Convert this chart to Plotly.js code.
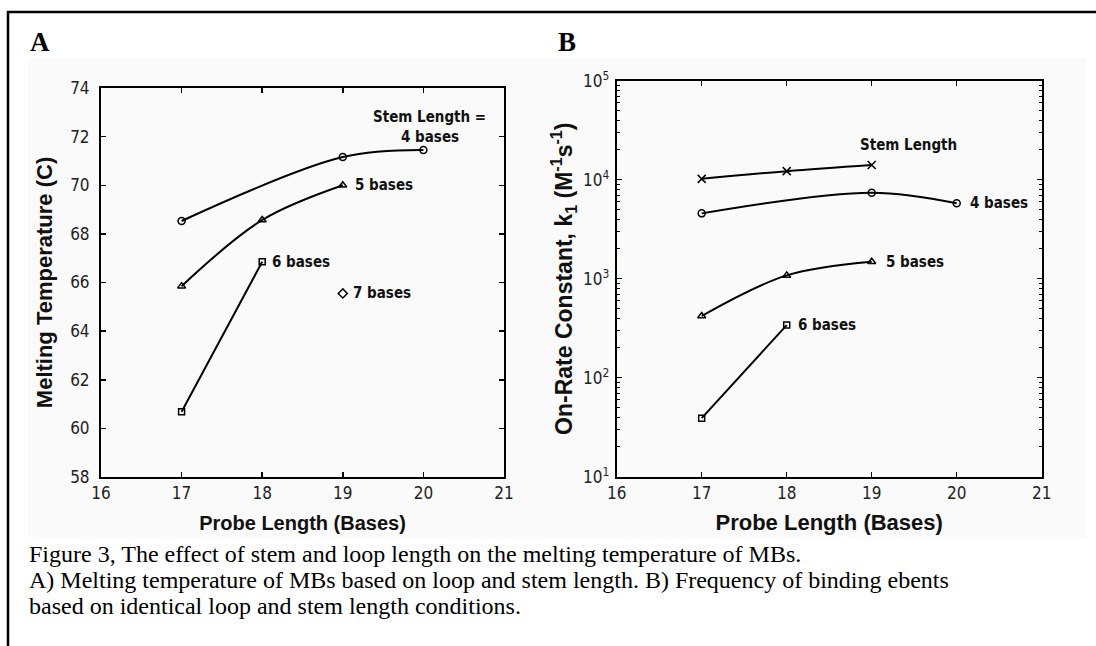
<!DOCTYPE html>
<html>
<head>
<meta charset="utf-8">
<script src="https://cdn.plot.ly/plotly-3.0.1.min.js"></script>
<style>
  html, body { margin: 0; padding: 0; background: #ffffff; }
  #chart { width: 1096px; height: 646px; }
</style>
</head>
<body>
<div id="chart"></div>
<script>
// ---------- Data ----------
// Panel A: melting temperature (C) vs probe length (bases)
const probeA4 = [17, 19, 20];
const tmA4    = [68.53, 71.16, 71.45];
const probeA5 = [17, 18, 19];
const tmA5    = [65.85, 68.57, 70.0];
const probeA6 = [17, 18];
const tmA6    = [60.68, 66.85];
const probeA7 = [19];
const tmA7    = [65.55];

// Panel B: on-rate constant k1 (M^-1 s^-1) vs probe length (bases)
const probeBx = [17, 18, 19];
const kBx     = [10200, 12200, 14100];
const probeB4 = [17, 19, 20];
const kB4     = [4570, 7390, 5770];
const probeB5 = [17, 18, 19];
const kB5     = [420, 1080, 1485];
const probeB6 = [17, 18];
const kB6     = [39, 340];

// Tick labels
const xTicks   = [16, 17, 18, 19, 20, 21];
const yTicksA  = [58, 60, 62, 64, 66, 68, 70, 72, 74];
const yTicksB  = [10, 100, 1000, 10000, 100000];
const yTextB   = ['10<sup>1</sup>', '10<sup>2</sup>', '10<sup>3</sup>', '10<sup>4</sup>', '10<sup>5</sup>'];

// Text
const panelLabels = ['A', 'B'];
const captionLines = [
  'Figure 3, The effect of stem and loop length on the melting temperature of MBs.',
  'A) Melting temperature of MBs based on loop and stem length. B) Frequency of binding ebents',
  'based on identical loop and stem length conditions.'
];

// ---------- Styling ----------
const W = 1096, H = 646;
const px = v => v / W;
const py = v => (H - v) / H;
const NARROW = '"DejaVu Sans Condensed", "Liberation Sans Narrow", "Liberation Sans", Arial, sans-serif';
const BOLD = '"Liberation Sans", Arial, sans-serif';
const SERIF = '"Liberation Serif", "Times New Roman", serif';

// minor tick positions for the log axis (2..9 within each decade)
const minorB = [];
for (let d = 1; d < 5; d++) for (let m = 2; m <= 9; m++) minorB.push(m * Math.pow(10, d));

function line(x, y, sym, xa, ya, size) {
  return {
    x: x, y: y, xaxis: xa, yaxis: ya, type: 'scatter', mode: 'lines+markers',
    line: { color: '#000', width: 2, shape: 'spline', smoothing: 1 },
    marker: { symbol: sym, size: size || 7, color: '#000', line: { color: '#000', width: 1.5 } },
    showlegend: false, hoverinfo: 'x+y'
  };
}

const traces = [
  line(probeA4, tmA4, 'circle-open', 'x', 'y'),
  line(probeA5, tmA5, 'triangle-up-open', 'x', 'y'),
  line(probeA6, tmA6, 'square-open', 'x', 'y', 6),
  line(probeA7, tmA7, 'diamond-open', 'x', 'y', 7),
  line(probeBx, kBx, 'x-thin-open', 'x2', 'y2', 8),
  line(probeB4, kB4, 'circle-open', 'x2', 'y2'),
  line(probeB5, kB5, 'triangle-up-open', 'x2', 'y2'),
  line(probeB6, kB6, 'square-open', 'x2', 'y2', 6)
];

const axisCommon = {
  showline: true, linecolor: '#000', linewidth: 2, mirror: 'ticks',
  ticks: 'inside', ticklen: 5, tickwidth: 1.5, tickcolor: '#000',
  showgrid: false, zeroline: false,
  tickfont: { family: NARROW, size: 17, color: '#222' }
};

const lblFont = { family: NARROW, size: 15, color: '#111', weight: 'bold' };
const titleFont = s => ({ family: BOLD, size: s, color: '#111', weight: 'bold' });

const annotations = [
  { xref: 'paper', yref: 'paper', x: px(28), y: py(42), xanchor: 'left', yanchor: 'middle', showarrow: false,
    text: panelLabels[0], font: { family: SERIF, size: 27, color: '#000', weight: 'bold' } },
  { xref: 'paper', yref: 'paper', x: px(556), y: py(42), xanchor: 'left', yanchor: 'middle', showarrow: false,
    text: panelLabels[1], font: { family: SERIF, size: 27, color: '#000', weight: 'bold' } },
  // Panel A series labels
  { xref: 'x', yref: 'y', x: 20.08, y: 72.8, showarrow: false, xanchor: 'center', yanchor: 'middle',
    text: 'Stem Length =', font: lblFont },
  { xref: 'x', yref: 'y', x: 20.08, y: 72.0, showarrow: false, xanchor: 'center', yanchor: 'middle',
    text: '4 bases', font: lblFont },
  { xref: 'x', yref: 'y', x: 19.13, y: 70.0, showarrow: false, xanchor: 'left', yanchor: 'middle', text: '5 bases', font: lblFont },
  { xref: 'x', yref: 'y', x: 18.1, y: 66.83, showarrow: false, xanchor: 'left', yanchor: 'middle', text: '6 bases', font: lblFont },
  { xref: 'x', yref: 'y', x: 19.1, y: 65.55, showarrow: false, xanchor: 'left', yanchor: 'middle', text: '7 bases', font: lblFont },
  // Panel B series labels
  { xref: 'x2', yref: 'y2', x: 19.43, y: Math.log10(22400), showarrow: false, xanchor: 'center', yanchor: 'middle', text: 'Stem Length', font: lblFont },
  { xref: 'x2', yref: 'y2', x: 20.13, y: Math.log10(5770), showarrow: false, xanchor: 'left', yanchor: 'middle', text: '4 bases', font: lblFont },
  { xref: 'x2', yref: 'y2', x: 19.15, y: Math.log10(1485), showarrow: false, xanchor: 'left', yanchor: 'middle', text: '5 bases', font: lblFont },
  { xref: 'x2', yref: 'y2', x: 18.11, y: Math.log10(340), showarrow: false, xanchor: 'left', yanchor: 'middle', text: '6 bases', font: lblFont }
];
// caption, one annotation per line (26 px spacing)
captionLines.forEach((t, i) => annotations.push({
  xref: 'paper', yref: 'paper', x: px(27), y: py(554 + 26 * i), xanchor: 'left', yanchor: 'middle',
  showarrow: false, text: t, font: { family: SERIF, size: 24, color: '#000' }
}));

const layout = {
  width: W, height: H,
  margin: { l: 0, r: 0, t: 0, b: 0 },
  paper_bgcolor: '#ffffff', plot_bgcolor: 'rgba(0,0,0,0)',
  showlegend: false,
  xaxis: Object.assign({}, axisCommon, {
    domain: [px(101), px(504)], range: [16, 21], tickvals: xTicks, anchor: 'y',
    ticklabelstandoff: 0,
    title: { text: 'Probe Length (Bases)', font: titleFont(20), standoff: 14 }
  }),
  yaxis: Object.assign({}, axisCommon, {
    domain: [py(477), py(88)], range: [58, 74], tickvals: yTicksA, anchor: 'x',
    ticklabelstandoff: 6,
    title: { text: 'Melting Temperature (C)', font: titleFont(22), standoff: 11 }
  }),
  xaxis2: Object.assign({}, axisCommon, {
    domain: [px(616.7), px(1041.7)], range: [16, 21], tickvals: xTicks, anchor: 'y2',
    ticklabelstandoff: 0,
    title: { text: 'Probe Length (Bases)', font: titleFont(22), standoff: 13 }
  }),
  yaxis2: Object.assign({}, axisCommon, {
    domain: [py(476.7), py(80.7)], type: 'log', range: [1, 5], anchor: 'x2',
    tickvals: yTicksB, ticktext: yTextB, ticklabelstandoff: 2,
    minor: { tickmode: 'array', tickvals: minorB, ticks: 'inside', ticklen: 3, tickwidth: 1, tickcolor: '#000', showgrid: false },
    title: { text: 'On-Rate Constant, k<sub>1</sub> (M<sup>-1</sup>s<sup>-1</sup>)', font: titleFont(23), standoff: 4 }
  }),
  shapes: [
    { type: 'rect', xref: 'paper', yref: 'paper', x0: px(28), x1: px(1086), y0: py(538), y1: py(58),
      fillcolor: '#fafafa', line: { width: 0 }, layer: 'below' },
    { type: 'path', xref: 'paper', yref: 'paper',
      path: 'M ' + px(8) + ',' + py(646) + ' L ' + px(8) + ',' + py(12) + ' L ' + px(1096) + ',' + py(12),
      line: { color: '#000', width: 2.5 } }
  ],
  annotations: annotations
};

Plotly.newPlot('chart', traces, layout, { displayModeBar: false, staticPlot: true });
</script>
</body>
</html>
